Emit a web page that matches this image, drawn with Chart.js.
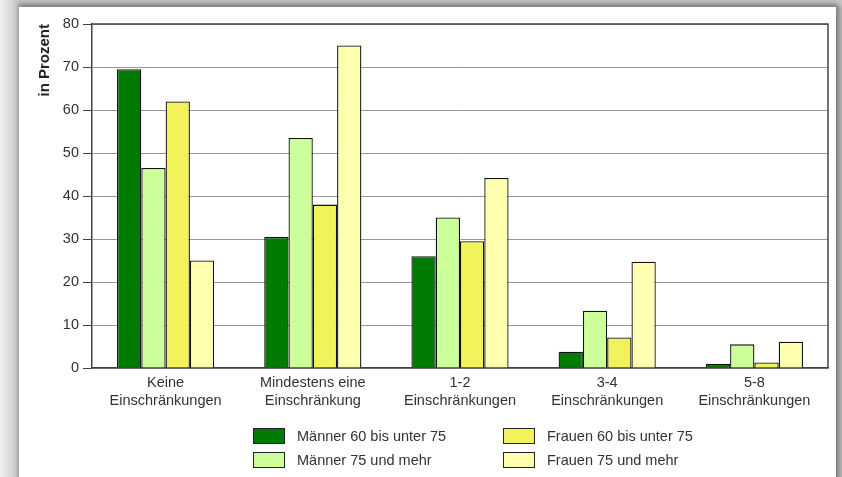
<!DOCTYPE html>
<html>
<head>
<meta charset="utf-8">
<script src="https://cdn.jsdelivr.net/npm/chart.js@4.4.0/dist/chart.umd.min.js"></script>
<style>
    html, body { margin: 0; padding: 0; }
    body { width: 842px; height: 477px; background: linear-gradient(to right, #f2f2f2 0px, #c4c4c4 19px); position: relative; overflow: hidden; font-family: 'Liberation Sans', Arial, sans-serif; }
    .frame { position: absolute; left: 19px; top: 7px; width: 817px; height: 480px; background: #fff; box-shadow: 0 -3px 4px 1px rgba(0,0,0,0.25), 4px 0 4px 1px rgba(0,0,0,0.2); }
    .chart-box { position: absolute; left: 0; top: 0; width: 817px; height: 470px; }
    .legend { position: absolute; left: 234px; top: 420px; display: grid; grid-template-columns: 250px 250px; row-gap: 6px; }
    .legend-item { display: flex; align-items: center; font-size: 14.5px; color: #333; height: 18px; }
    .legend-box { width: 32px; height: 16px; border: 1px solid #222; margin-right: 12px; box-sizing: border-box; }
</style>
</head>
<body>
<div class="frame">
    <div class="chart-box"><canvas id="chart"></canvas></div>
    <div class="legend" id="legend"></div>
</div>
<script>
// Data
const categories = [
    ['Keine', 'Einschränkungen'],
    ['Mindestens eine', 'Einschränkung'],
    ['1-2', 'Einschränkungen'],
    ['3-4', 'Einschränkungen'],
    ['5-8', 'Einschränkungen']
];
const maenner60 = [69.5, 30.5, 26.0, 3.8, 1.0];
const maenner75 = [46.5, 53.5, 35.0, 13.3, 5.5];
const frauen60 = [62.0, 38.0, 29.5, 7.1, 1.3];
const frauen75 = [25.0, 75.0, 44.2, 24.7, 6.1];
const yTicks = [0, 10, 20, 30, 40, 50, 60, 70, 80];

const series = [
    { label: 'Männer 60 bis unter 75', data: maenner60, color: '#007a00' },
    { label: 'Männer 75 und mehr', data: maenner75, color: '#ccff99' },
    { label: 'Frauen 60 bis unter 75', data: frauen60, color: '#f2f25a' },
    { label: 'Frauen 75 und mehr', data: frauen75, color: '#ffffb0' }
];

// Draw top and right border of the plot area
const plotFrame = {
    id: 'plotFrame',
    afterDraw(chart) {
        const a = chart.chartArea;
        const c = chart.ctx;
        c.save();
        c.strokeStyle = '#444';
        c.lineWidth = 1.5;
        c.beginPath();
        c.moveTo(a.left, a.top);
        c.lineTo(a.right, a.top);
        c.lineTo(a.right, a.bottom);
        c.stroke();
        c.restore();
    }
};

new Chart(document.getElementById('chart'), {
    type: 'bar',
    data: {
        labels: categories,
        datasets: series.map(s => ({
            label: s.label,
            data: s.data,
            backgroundColor: s.color,
            borderColor: '#111',
            borderWidth: 1.3,
            borderSkipped: 'bottom',
            categoryPercentage: 0.66,
            barPercentage: 1.0
        }))
    },
    options: {
        responsive: true,
        maintainAspectRatio: false,
        animation: false,
        layout: {
            padding: { top: 17, right: 8, bottom: 60, left: 17 }
        },
        plugins: {
            legend: { display: false },
            tooltip: { enabled: false }
        },
        scales: {
            x: {
                grid: { display: false, drawTicks: false },
                border: { color: '#444', width: 1.5 },
                ticks: {
                    color: '#333',
                    padding: 6,
                    maxRotation: 0,
                    font: { size: 14.5, family: "'Liberation Sans', Arial, sans-serif", lineHeight: 1.25 }
                },
                afterFit: function(scale) { scale.height = 49; }
            },
            y: {
                min: 0,
                max: 80,
                afterBuildTicks: function(scale) {
                    scale.ticks = yTicks.map(v => ({ value: v }));
                },
                grid: { color: '#999', lineWidth: 1, tickLength: 9, tickColor: '#444' },
                border: { color: '#444', width: 1.5 },
                ticks: {
                    color: '#333',
                    padding: 4,
                    font: { size: 14.5, family: "'Liberation Sans', Arial, sans-serif" }
                },
                title: {
                    display: true,
                    text: 'in Prozent',
                    align: 'end',
                    color: '#222',
                    padding: { top: 0, bottom: 6 },
                    font: { size: 15, weight: 'bold', family: "'Liberation Sans', Arial, sans-serif" }
                },
                afterFit: function(scale) { scale.width = 56; }
            }
        }
    },
    plugins: [plotFrame]
});

// HTML legend in two columns (Männer | Frauen)
const legendEl = document.getElementById('legend');
[0, 2, 1, 3].forEach(i => {
    const item = document.createElement('div');
    item.className = 'legend-item';
    const box = document.createElement('span');
    box.className = 'legend-box';
    box.style.background = series[i].color;
    item.appendChild(box);
    item.appendChild(document.createTextNode(series[i].label));
    legendEl.appendChild(item);
});
</script>
</body>
</html>
